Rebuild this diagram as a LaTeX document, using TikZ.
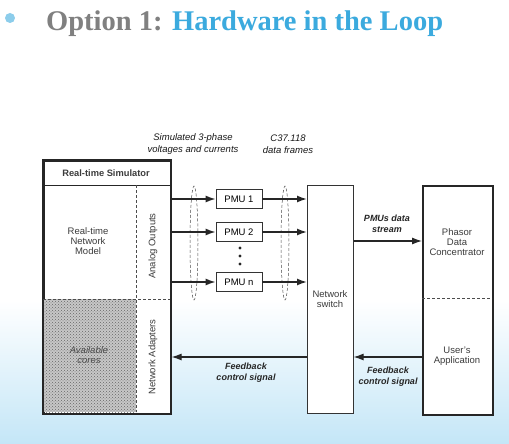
\documentclass[tikz,border=0pt]{standalone}
\usepackage{fontspec}
\setmainfont{Liberation Sans}
\newfontfamily\titlefont{Liberation Serif}
\usetikzlibrary{arrows.meta,patterns,shapes.geometric}
\definecolor{titlegray}{RGB}{128,128,128}
\definecolor{titleblue}{RGB}{59,170,222}
\definecolor{bulletblue}{RGB}{140,205,235}
\definecolor{bgblue}{RGB}{196,230,247}
\definecolor{txt}{RGB}{60,60,60}
\tikzset{
  box/.style={draw=black!80, fill=white, line width=0.6pt, inner sep=0pt},
  thickbox/.style={draw=black!85, fill=white, line width=1.6pt, inner sep=0pt},
  lbl/.style={font=\fontsize{9.5}{10}\selectfont, text=txt, align=center, inner sep=0pt},
  ilbl/.style={font=\fontsize{9.5}{11.5}\selectfont\itshape, text=black!90, align=center, inner sep=0pt},
  bilbl/.style={font=\fontsize{9}{11}\selectfont\bfseries\itshape, text=black!85, align=center, inner sep=0pt},
  arr/.style={draw=black!85, line width=1.1pt, -{Latex[length=10pt,width=7pt]}},
  tarr/.style={draw=black!85, line width=1.6pt, -{Latex[length=10pt,width=7pt]}},
  dsh/.style={draw=black!70, dashed, dash pattern=on 3pt off 2pt, line width=0.5pt},
}
\begin{document}
\begin{tikzpicture}[x=1pt,y=-1pt]
\useasboundingbox (0,0) rectangle (509,444);
% background
\fill[white] (0,0) rectangle (509,444);
\shade[top color=white, bottom color=bgblue] (0,300) rectangle (509,444);
% title
\fill[bulletblue] (10,18) circle (5);
\node[anchor=base west, inner sep=0pt, font=\titlefont\bfseries\fontsize{28.5}{30}\selectfont] (title) at (46,31)
  {\textcolor{titlegray}{Option 1:} \textcolor{titleblue}{Hardware in the Loop}};
% top labels
\node[ilbl] (lsim) at (193,144) {Simulated 3-phase\\voltages and currents};
\node[ilbl] (lc37) at (288,144) {C37.118\\data frames};
% simulator
\node[thickbox, minimum width=127pt, minimum height=253pt, anchor=north west] (sim) at (43,160) {};
\fill[black!22] (43.8,299) rectangle (136,412.2);
\fill[pattern=crosshatch dots, pattern color=black!60] (43.8,299) rectangle (136,412.2);
\draw[black!85, line width=1.6pt] (sim.north west) rectangle (sim.south east);
\draw[black!85, line width=1pt] (43,185) -- (170,185);
\draw[dsh] (136,185) -- (136,412);
\draw[dsh] (43,299) -- (170,299);
\node[lbl, font=\fontsize{9.3}{10}\selectfont\bfseries] (simt) at (106,173) {Real-time Simulator};
\node[lbl] (rtnm) at (88,241) {Real-time\\Network\\Model};
\node[lbl, rotate=90] (ao) at (153,246) {Analog Outputs};
\node[lbl, rotate=90] (na) at (153,357) {Network Adapters};
\node[lbl, font=\fontsize{9.5}{10.5}\selectfont\itshape, text=black!70] (ac) at (89,355) {Available\\cores};
% PMUs
\node[box, minimum width=46pt, minimum height=19pt, font=\fontsize{9.5}{10}\selectfont] (p1) at (239,199) {PMU 1};
\node[box, minimum width=46pt, minimum height=19pt, font=\fontsize{9.5}{10}\selectfont] (p2) at (239,232) {PMU 2};
\node[box, minimum width=46pt, minimum height=19pt, font=\fontsize{9.5}{10}\selectfont] (pn) at (239,282) {PMU n};
\fill[black!85] (240,248) circle (1.7) (240,256) circle (1.7) (240,264) circle (1.7);
% switch
\node[box, minimum width=46pt, minimum height=228pt, anchor=north west] (sw) at (307,185) {};
\node[lbl] (swt) at (330,299) {Network\\switch};
% PDC
\node[thickbox, minimum width=70pt, minimum height=229pt, anchor=north west] (pdc) at (422,185) {};
\draw[dsh] (422,298) -- (492,298);
\node[lbl] (pdct) at (457,242) {Phasor\\Data\\Concentrator};
\node[lbl] (ua) at (457,356) {User's\\Application};
% dashed cylinders
\draw[dsh] (194,243) ellipse (4 and 57);
\draw[dsh] (285,243) ellipse (4 and 57);
% arrows
\draw[tarr] (p1 -| sim.east) -- (p1.west);
\draw[tarr] (p2 -| sim.east) -- (p2.west);
\draw[tarr] (pn -| sim.east) -- (pn.west);
\draw[tarr] (p1.east) -- (p1 -| sw.west);
\draw[tarr] (p2.east) -- (p2 -| sw.west);
\draw[tarr] (pn.east) -- (pn -| sw.west);
\coordinate (ds) at (0,241);
\coordinate (fb) at (0,357);
\draw[arr] (ds -| sw.east) -- (ds -| pdc.west);
\draw[arr] (fb -| pdc.west) -- (fb -| sw.east);
\draw[arr] (fb -| sw.west) -- (fb -| sim.east);
\node[bilbl] (lds) at (387,224) {PMUs data\\stream};
\node[bilbl] (lfb1) at (388,377) {Feedback\\control signal};
\node[bilbl] (lfb2) at (246,373) {Feedback\\control signal};
\end{tikzpicture}
\end{document}
